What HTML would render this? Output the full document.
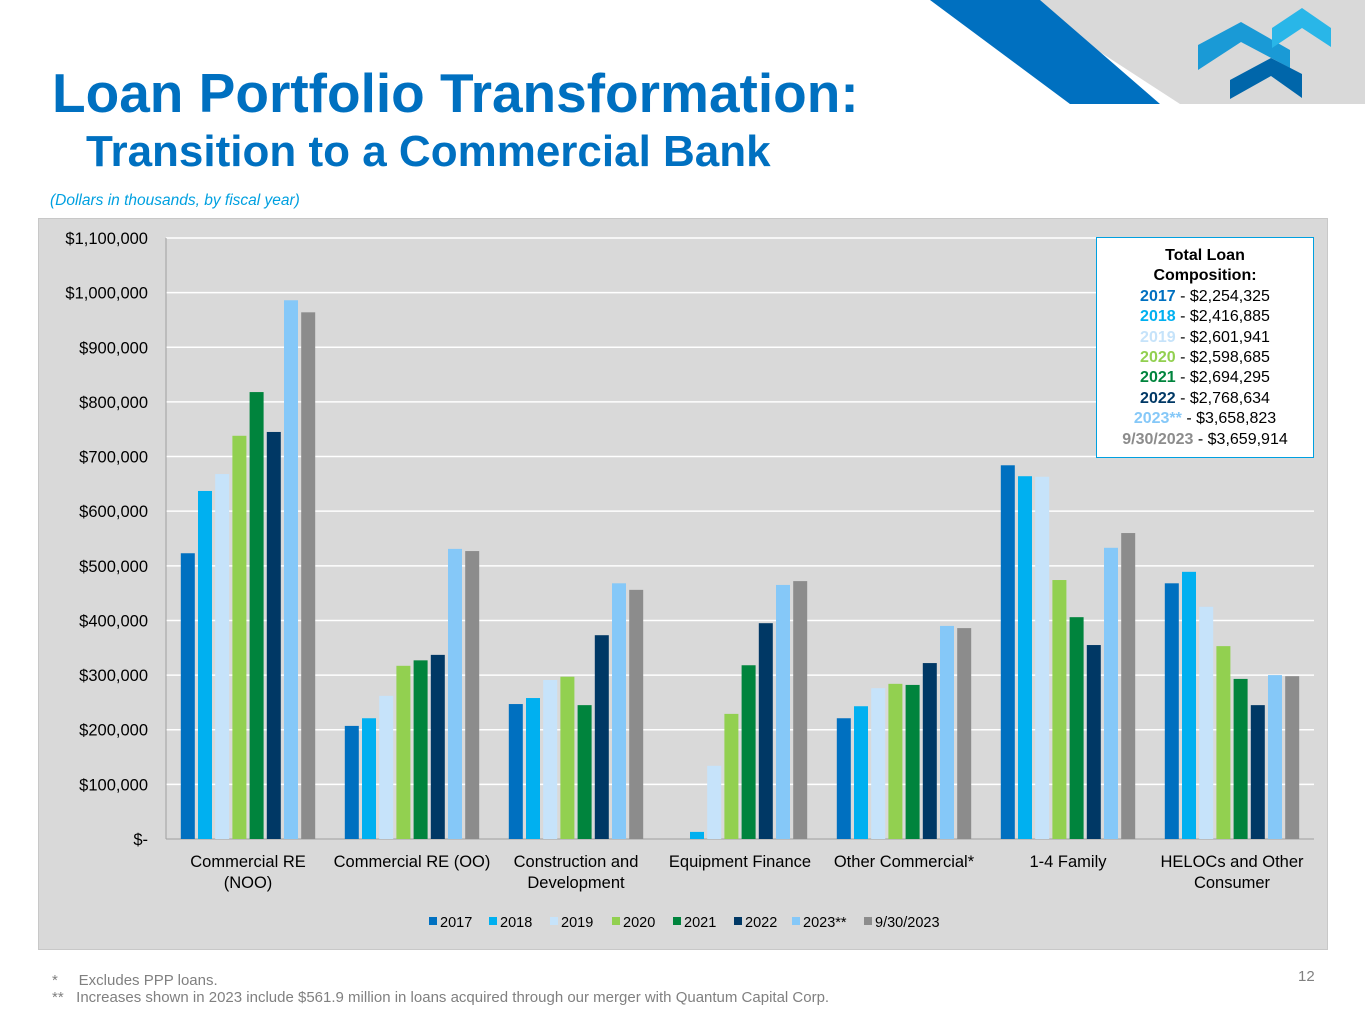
<!DOCTYPE html>
<html><head><meta charset="utf-8"><style>
body{margin:0;width:1365px;height:1024px;background:#fff;position:relative;overflow:hidden;font-family:"Liberation Sans",Arial,sans-serif}
.abs{position:absolute}
</style></head><body>
<svg class="abs" style="left:0;top:0" width="1365" height="110">
<polygon points="1020,0 1365,0 1365,104 1180,104" fill="#d9d9d9"/>
<polygon points="930,0 1040,0 1160,104 1070,104" fill="#0070c0"/>
<g>
<polygon points="1198,45 1241,22 1290,50 1290,68 1241,42 1198,70" fill="#1a9ad6"/>
<polygon points="1272,28 1302,8 1331,28 1331,47 1302,28 1272,48" fill="#29b6e8"/>
<polygon points="1230,80 1271,58 1302,74 1302,98 1271,76 1230,99" fill="#0066aa"/>
</g>
</svg>
<div class="abs" style="left:52px;top:61px;font-size:55px;font-weight:bold;color:#0070c0">Loan Portfolio Transformation:</div>
<div class="abs" style="left:86px;top:127px;font-size:44px;font-weight:bold;color:#0070c0">Transition to a Commercial Bank</div>
<div class="abs" style="left:50px;top:192px;font-size:15.5px;font-style:italic;color:#00a0e0">(Dollars in thousands, by fiscal year)</div>
<div class="abs" style="left:38px;top:218px;width:1288px;height:730px;background:#d9d9d9;border:1px solid #c8c8c8"></div>
<svg id="chart" class="abs" style="left:0;top:0" width="1365" height="1024"></svg>
<div class="abs" style="left:1096px;top:237px;width:218px;height:221px;background:#fff;border:1px solid #00a0e0;text-align:center;font-size:16px;line-height:20.4px;padding-top:8px;box-sizing:border-box">
<b>Total Loan<br>Composition:</b><br>
<b style="color:#0070c0">2017</b> - $2,254,325<br>
<b style="color:#00b0f0">2018</b> - $2,416,885<br>
<b style="color:#c6e3fa">2019</b> - $2,601,941<br>
<b style="color:#92d050">2020</b> - $2,598,685<br>
<b style="color:#00843d">2021</b> - $2,694,295<br>
<b style="color:#003865">2022</b> - $2,768,634<br>
<b style="color:#85c8f8">2023**</b> - $3,658,823<br>
<b style="color:#8c8c8c">9/30/2023</b> - $3,659,914
</div>
<div class="abs" style="left:52px;top:972px;font-size:15px;color:#808080">*&nbsp;&nbsp;&nbsp;&nbsp;&nbsp;Excludes PPP loans.</div>
<div class="abs" style="left:52px;top:989px;font-size:15px;color:#808080">**&nbsp;&nbsp;&nbsp;Increases shown in 2023 include $561.9 million in loans acquired through our merger with Quantum Capital Corp.</div>
<div class="abs" style="left:1298px;top:968px;font-size:15px;color:#808080">12</div>
<script>
const categories=[["Commercial RE","(NOO)"],["Commercial RE (OO)"],["Construction and","Development"],["Equipment Finance"],["Other Commercial*"],["1-4 Family"],["HELOCs and Other","Consumer"]];
const seriesNames=["2017","2018","2019","2020","2021","2022","2023**","9/30/2023"];
const seriesColors=["#0070c0","#00b0f0","#c6e3fa","#92d050","#00843d","#003865","#85c8f8","#8c8c8c"];
const s2017=[523,207,247,0,221,684,468];
const s2018=[637,221,258,13,243,664,489];
const s2019=[668,262,291,134,276,663,425];
const s2020=[738,317,297,229,284,474,353];
const s2021=[818,327,245,318,282,406,293];
const s2022=[745,337,373,395,322,355,245];
const s2023=[986,531,468,465,390,533,300];
const sQ=[964,527,456,472,386,560,298];
const ticks=[0,100,200,300,400,500,600,700,800,900,1000,1100];
const tickLabels=["$-","$100,000","$200,000","$300,000","$400,000","$500,000","$600,000","$700,000","$800,000","$900,000","$1,000,000","$1,100,000"];
const series=[s2017,s2018,s2019,s2020,s2021,s2022,s2023,sQ];
const svg=document.getElementById('chart');const NS='http://www.w3.org/2000/svg';
const x0=166,x1=1314,yb=839,yt=238,vmax=1100;
const y=v=>yb-(v/vmax)*(yb-yt);
const cw=(x1-x0)/categories.length;
function mk(t,a){const e=document.createElementNS(NS,t);for(const k in a)e.setAttribute(k,a[k]);svg.appendChild(e);return e;}
ticks.forEach((t,i)=>{
 if(i>0){const g=mk('line',{x1:x0,x2:x1,y1:y(t),y2:y(t),stroke:'#fff','stroke-width':1.5});
 
 }
 const l=mk('text',{x:148,y:y(t)+6,'text-anchor':'end','font-size':16.5,fill:'#000'});l.textContent=tickLabels[i];
 
 
});
const ax=mk('line',{x1:x0,x2:x0,y1:yt,y2:yb,stroke:'#a0a0a0'});


const xa=mk('line',{x1:x0,x2:x1,y1:yb,y2:yb,stroke:'#a0a0a0'});


const bw=14,pitch=17.2;
categories.forEach((c,ci)=>{
 const cx=x0+cw*ci+cw/2;
 series.forEach((s,si)=>{
  const v=s[ci];const bx=cx-pitch*4+pitch*si+(pitch-bw)/2;
  const r=mk('rect',{x:bx,y:y(v),width:bw,height:yb-y(v),fill:seriesColors[si]});
  
  
 });
 c.forEach((line,li)=>{const t=mk('text',{x:cx,y:867+li*21,'text-anchor':'middle','font-size':16.5,fill:'#000'});t.textContent=line;
 
 });
});
const lx=[429,489,550,612,673,734,792,864];
seriesNames.forEach((n,i)=>{
 const r=mk('rect',{x:lx[i],y:917,width:8,height:8,fill:seriesColors[i]});
 
 
 const t=mk('text',{x:lx[i]+11,y:927,'font-size':14.5,fill:'#000'});t.textContent=n;
 
 
});
</script>
</body></html>
